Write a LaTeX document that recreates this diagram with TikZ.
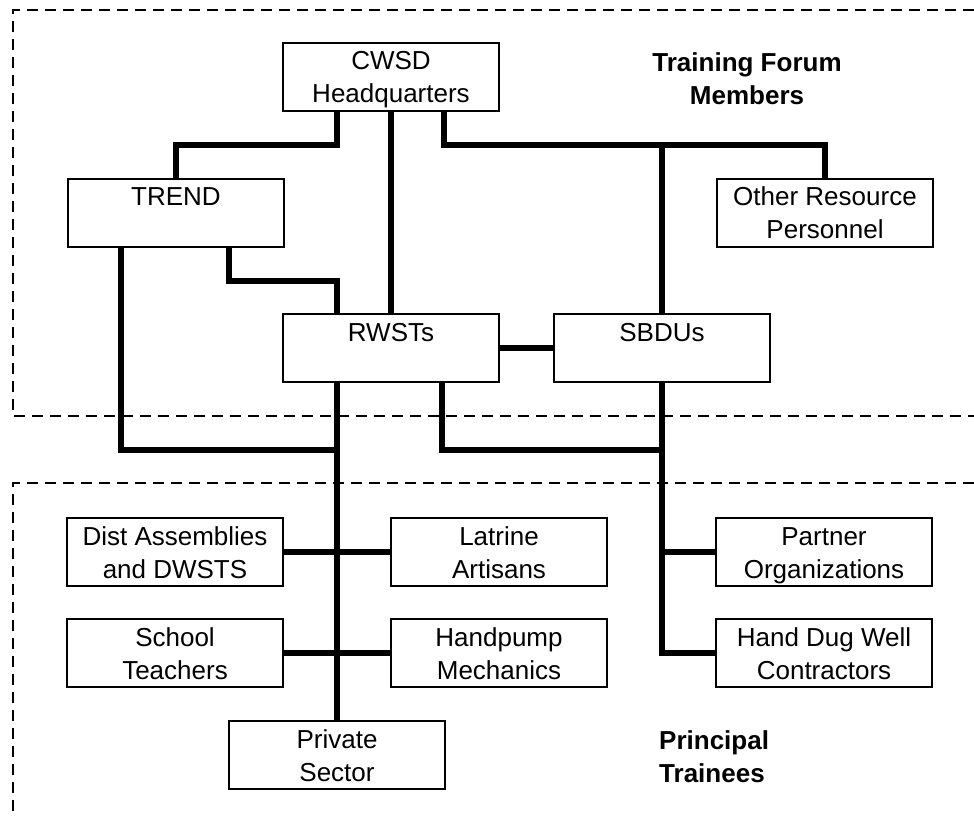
\documentclass[tikz,border=0pt]{standalone}
\usepackage{fontspec}
\setmainfont{Liberation Sans}
\newcommand{\toprl}{\rule{0pt}{27pt}}
\newcommand{\botrl}{\rule[-8pt]{0pt}{8pt}}
\begin{document}
\begin{tikzpicture}[x=1pt,y=-1pt,
  box/.style={draw, line width=1.8pt, minimum width=216pt, minimum height=68pt, inner sep=0pt, align=center, font=\fontsize{26}{33}\selectfont},
  conn/.style={line width=5.5pt},
  zone/.style={line width=2.2pt, dash pattern=on 11pt off 7pt},
  lab/.style={font=\fontsize{26}{33}\selectfont\bfseries, inner sep=0pt}]
\useasboundingbox (0,0) rectangle (974,818);
% dashed zones
\draw[zone] (974,10) -- (13,10) -- (13,416) -- (974,416);
\draw[zone] (974,483) -- (13,483) -- (13,818);
% boxes
\node[box] (cwsd) at (391,77) {\toprl CWSD\\Headquarters\botrl};
\node[box] (trend) at (176,213) {\toprl TREND\\\botrl};
\node[box] (other) at (825,213) {\toprl Other Resource\\Personnel\botrl};
\node[box] (rwsts) at (391,348) {\toprl RWSTs\\\botrl};
\node[box] (sbdus) at (662,348) {\toprl SBDUs\\\botrl};
\node[box] (dist) at (175,552) {\toprl Dist Assemblies\\and DWSTS\botrl};
\node[box] (latrine) at (499,552) {\toprl Latrine\\Artisans\botrl};
\node[box] (school) at (175,653) {\toprl School\\Teachers\botrl};
\node[box] (handpump) at (499,653) {\toprl Handpump\\Mechanics\botrl};
\node[box] (private) at (337,755) {\toprl Private\\Sector\botrl};
\node[box] (partner) at (824,552) {\toprl Partner\\Organizations\botrl};
\node[box] (handdug) at (824,653) {\toprl Hand Dug Well\\Contractors\botrl};
% labels
\node[lab, align=center] (tfm) at (747,79) {Training Forum\\Members};
\node[lab, align=left, anchor=west] (pt) at (659,757) {Principal\\Trainees};
% junction coordinates
\coordinate (hqbar) at (0,145);
\coordinate (lowbar) at (0,450);
% connectors
\draw[conn] ([xshift=55pt]cwsd.south west) -- ([xshift=55pt]cwsd.south west |- hqbar) -| (trend.north);
\draw[conn] (cwsd.south) -- (rwsts.north);
\draw[conn] ([xshift=162pt]cwsd.south west) -- ([xshift=162pt]cwsd.south west |- hqbar) -| (other.north);
\draw[conn] (sbdus.north |- hqbar) -- (sbdus.north);
\draw[conn] ([xshift=54pt]trend.south west) |- (private.north |- lowbar);
\draw[conn] ([xshift=162pt]trend.south west) -- ++(0,33) -| ([xshift=55pt]rwsts.north west);
\draw[conn] (rwsts.east) -- (sbdus.west);
\draw[conn] (rwsts.south -| private.north) -- (private.north);
\draw[conn] ([xshift=160pt]rwsts.south west) |- (sbdus.south |- lowbar);
\draw[conn] (sbdus.south) |- (handdug.west);
\draw[conn] (sbdus.south |- partner.west) -- (partner.west);
\draw[conn] (dist.east) -- (latrine.west);
\draw[conn] (school.east) -- (handpump.west);
\end{tikzpicture}
\end{document}
